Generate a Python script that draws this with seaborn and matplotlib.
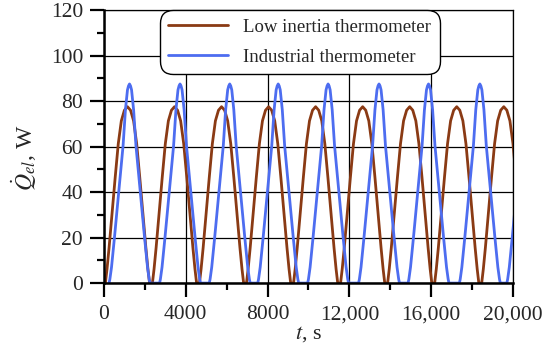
import numpy as np
import pandas as pd
import matplotlib
matplotlib.use('Agg')
import matplotlib.pyplot as plt
import seaborn as sns

# peak times (s) and peak heights (W)
low_peaks = [1150, 3450, 5750, 8050, 10350, 12650, 14950, 17250, 19550, 21850]
low_height = 77.5
ind_peaks = [1250, 3720, 6150, 8520, 10960, 13450, 15870, 18380, 20700]
ind_height = 87.5

# half-pulse shapes: offset from peak (s) -> fraction of peak
low_offsets = [0, 150, 300, 450, 600, 750, 900, 1000, 1080]
low_fracs = [1.0, 0.98, 0.92, 0.79, 0.60, 0.40, 0.20, 0.08, 0.0]
ind_offsets = [0, 50, 100, 200, 315, 525, 735, 880, 960, 1000]
ind_fracs = [1.0, 0.99, 0.97, 0.87, 0.69, 0.46, 0.23, 0.08, 0.02, 0.0]

series_names = ['Low inertia thermometer', 'Industrial thermometer']
colors = ['#8a3a14', '#4d6df0']


def build_series(peaks, height, offsets, fracs, name):
    off = np.array(offsets, dtype=float)
    fr = np.array(fracs, dtype=float)
    full_off = np.concatenate([-off[::-1], off[1:]])
    full_fr = np.concatenate([fr[::-1], fr[1:]])
    t = np.concatenate([p + full_off for p in peaks])
    q = np.concatenate([height * full_fr for _ in peaks])
    return pd.DataFrame({'t': t, 'Q': q, 'series': name})


def main():
    sns.set_style('ticks')
    plt.rcParams['font.family'] = ['Liberation Serif', 'DejaVu Serif']
    plt.rcParams['mathtext.fontset'] = 'stix'

    data = pd.concat([
        build_series(low_peaks, low_height, low_offsets, low_fracs, series_names[0]),
        build_series(ind_peaks, ind_height, ind_offsets, ind_fracs, series_names[1]),
    ], ignore_index=True)

    fig = plt.figure(figsize=(5.5, 3.57), dpi=100)
    ax = fig.add_axes([0.189, 0.207, 0.7437, 0.765])

    sns.lineplot(data=data, x='t', y='Q', hue='series', palette=colors,
                 estimator=None, sort=False, linewidth=2.0, ax=ax, legend=False)

    ax.set_xlim(0, 20000)
    ax.set_ylim(0, 120)
    ax.set_xticks([0, 4000, 8000, 12000, 16000, 20000])
    ax.set_xticklabels(['0', '4000', '8000', '12,000', '16,000', '20,000'])
    ax.set_xticks([2000, 6000, 10000, 14000, 18000], minor=True)
    ax.set_yticks(range(0, 121, 20))
    ax.set_yticks(range(10, 120, 20), minor=True)
    ax.grid(True, which='major', color='black', linewidth=0.9)
    ax.set_axisbelow(True)

    for side in ['left', 'bottom']:
        ax.spines[side].set_linewidth(1.8)
    for side in ['top', 'right']:
        ax.spines[side].set_visible(True)
        ax.spines[side].set_linewidth(0.9)
    for s in ax.spines.values():
        s.set_color('black')

    ax.tick_params(which='major', direction='out', length=10, width=1.6,
                   labelsize=15.5, pad=5, color='black')
    ax.tick_params(which='minor', direction='out', length=5, width=1.6, color='black')
    ax.tick_params(axis='x', which='major', pad=6)

    ax.set_xlabel('$t$, s', fontsize=16, labelpad=0)
    ax.set_ylabel(r'$\dot{Q}_{el}$, W', fontsize=17)
    ax.yaxis.set_label_coords(-0.158, 0.46)

    handles = [plt.Line2D([], [], color=c, linewidth=2.0) for c in colors]
    leg = ax.legend(handles, series_names, loc='upper left', bbox_to_anchor=(0.137, 1.0),
                    borderaxespad=0, fontsize=13.5, handlelength=3.2, handletextpad=0.8,
                    labelspacing=0.7, borderpad=0.45, frameon=True, fancybox=True,
                    framealpha=1, edgecolor='black')
    leg.get_frame().set_linewidth(1.0)
    leg.get_frame().set_boxstyle('round', pad=0, rounding_size=0.7)

    fig.savefig('out.png', dpi=100)


if __name__ == '__main__':
    main()
